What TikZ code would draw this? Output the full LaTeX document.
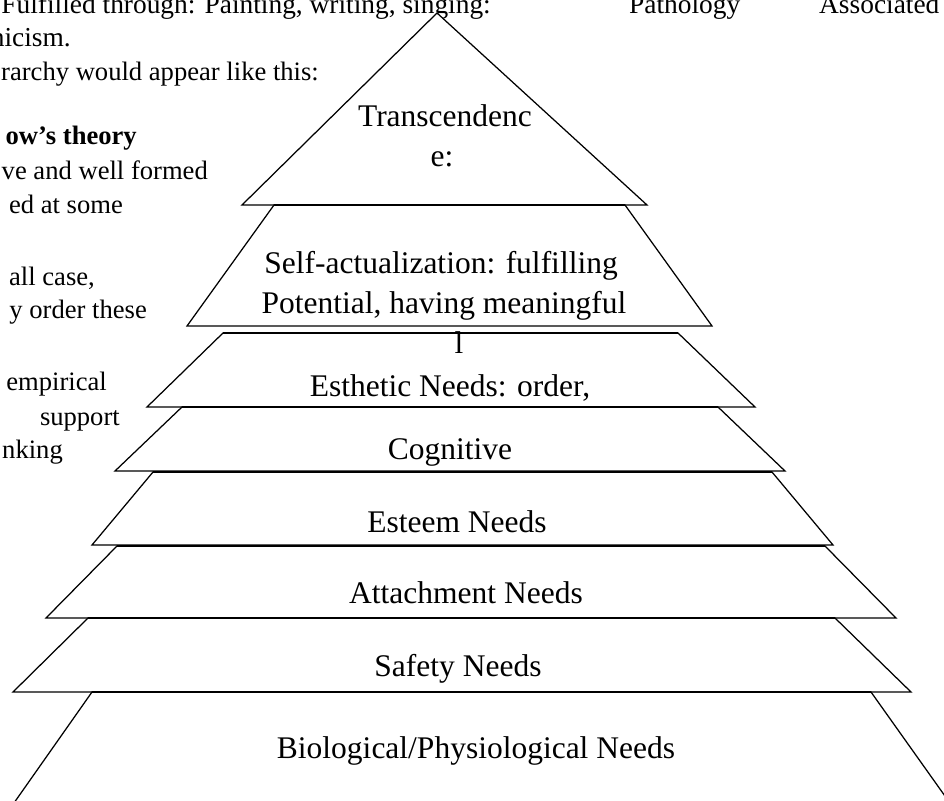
\documentclass[tikz,border=0pt]{standalone}
\usepackage{fontspec}
\setmainfont{Liberation Serif}
\tikzset{
  layer/.style={draw=black, fill=white, line width=1.25pt, line join=miter},
  topedge/.style={draw=black, line width=2.3pt},
  lbl/.style={font=\fontsize{31.5}{36}\selectfont, anchor=base, inner sep=0pt},
  bodyR/.style={font=\fontsize{27.4}{32}\selectfont, anchor=base east, inner sep=0pt},
  bodyL/.style={font=\fontsize{27.4}{32}\selectfont, anchor=base west, inner sep=0pt},
  colR/.style={font=\fontsize{26.6}{32}\selectfont, anchor=base east, inner sep=0pt}
}
\begin{document}
\begin{tikzpicture}[x=1pt,y=-1pt]
\useasboundingbox (0,0) rectangle (944,800);
\clip (0,0) rectangle (944,800);
\fill[white] (0,0) rectangle (944,800);

% surrounding document text
\node[bodyR] (t1) at (491,14) {Fulfilled through: Painting, writing, singing:};
\node[bodyL] (t2) at (629,14) {Pathology};
\node[bodyL] (t3) at (819,14) {Associated};
\node[bodyR] (t4) at (71,47) {nicism.};
\node[colR] (t5) at (319,81) {rarchy would appear like this:};
\node[colR, font=\fontsize{26.6}{32}\selectfont\bfseries] (t6) at (137,144) {ow’s theory};
\node[colR] (t7) at (208,179) {ve and well formed};
\node[colR] (t8) at (123,213) {ed at some};
\node[colR] (t9) at (95,285) {all case,};
\node[colR] (t10) at (147,318) {y order these};
\node[colR] (t11) at (107,390) {empirical};
\node[colR] (t12) at (120,425) {support};
\node[colR] (t13) at (63,458) {nking};

% pyramid layers
\draw[layer] (437,13) -- (647,205) -- (242,205) -- cycle;
\draw[layer] (274,205) -- (625,205) -- (712,326) -- (187,326) -- cycle;
\draw[topedge] (274,205) -- (625,205);
\draw[layer] (223,333) -- (678,333) -- (755,407) -- (147,407) -- cycle;
\draw[topedge] (223,333) -- (678,333);
\draw[layer] (182,407) -- (718,407) -- (785,471) -- (115,471) -- cycle;
\draw[topedge] (182,407) -- (718,407);
\draw[layer] (153,472) -- (772,472) -- (833,545) -- (92,545) -- cycle;
\draw[topedge] (153,472) -- (772,472);
\draw[layer] (117,546) -- (825,546) -- (896,618) -- (46,618) -- cycle;
\draw[topedge] (117,546) -- (825,546);
\draw[layer] (88,618) -- (835,618) -- (911,692) -- (13,692) -- cycle;
\draw[topedge] (88,618) -- (835,618);
\draw[layer] (92,692) -- (871,692) -- (962,820) -- (2,820) -- cycle;
\draw[topedge] (92,692) -- (871,692);

% labels
\node[lbl] (trans1) at (445,126) {Transcendenc};
\node[lbl] (trans2) at (442,166) {e:};
\node[lbl] (self1) at (441,273) {Self-actualization: fulfilling};
\node[lbl] (self2) at (444,313) {Potential, having meaningful};
\node[lbl] (self3) at (459,353) {l};
\node[lbl] (esth) at (450,396) {Esthetic Needs: order,};
\node[lbl] (cog) at (450,459) {Cognitive};
\node[lbl] (est) at (457,532) {Esteem Needs};
\node[lbl] (att) at (466,603) {Attachment Needs};
\node[lbl] (saf) at (458,676) {Safety Needs};
\node[lbl] (bio) at (476,758) {Biological/Physiological Needs};
\end{tikzpicture}
\end{document}
